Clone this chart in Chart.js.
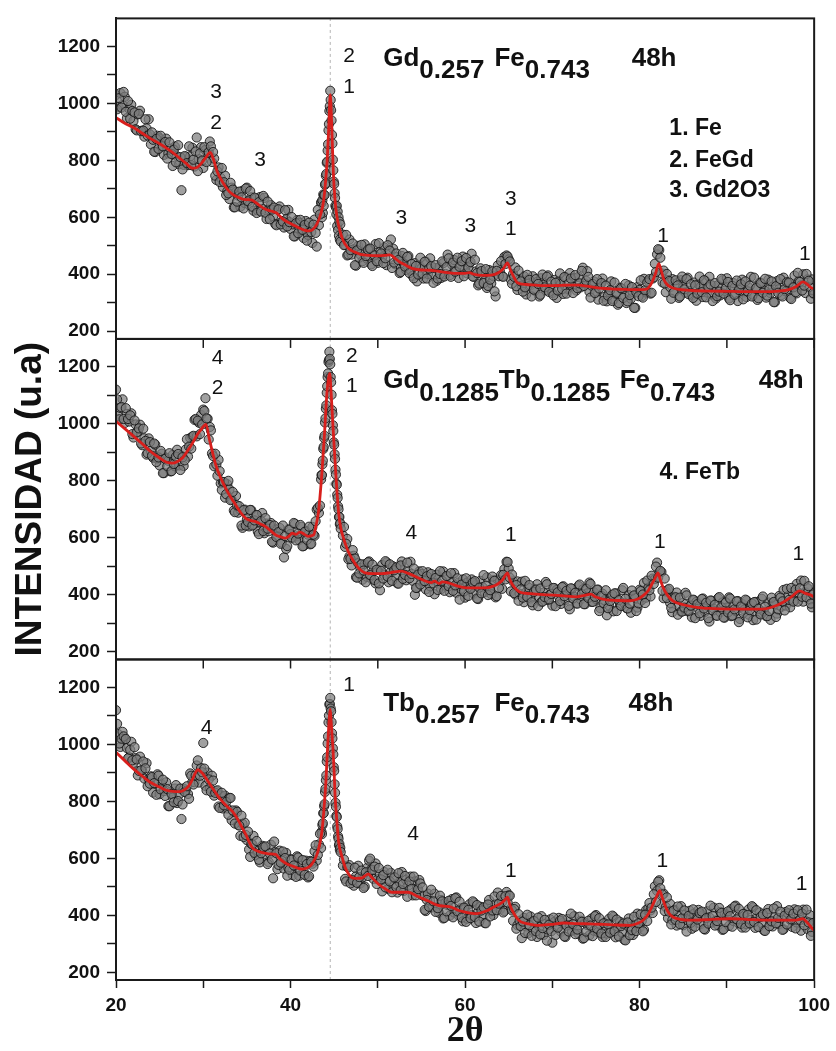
<!DOCTYPE html>
<html>
<head>
<meta charset="utf-8">
<script src="https://cdn.jsdelivr.net/npm/chart.js@4"></script>
<style>
  html, body { margin: 0; padding: 0; background: #ffffff; }
  canvas { display: block; }
</style>
</head>
<body>
<canvas id="c" width="836" height="1051"></canvas>
<script>
// ---------------- data ----------------
const xTicks = [20, 30, 40, 50, 60, 70, 80, 90, 100];
const yTicks = [200, 300, 400, 500, 600, 700, 800, 900, 1000, 1100, 1200];
const refLine2Theta = 44.55;

// 2-theta scan positions (shared by the three patterns)
const scanX = [
20,20.25,20.5,20.75,21,21.25,21.5,21.75,22,22.25,22.5,22.75,23,23.25,23.5,23.75,24,24.25,24.5,24.75,
25,25.25,25.5,25.75,26,26.25,26.5,26.75,27,27.25,27.5,27.75,28,28.25,28.5,28.75,29,29.25,29.5,29.75,
30,30.25,30.5,30.75,31,31.25,31.5,31.75,32,32.25,32.5,32.75,33,33.25,33.5,33.75,34,34.25,34.5,34.75,
35,35.25,35.5,35.75,36,36.25,36.5,36.75,37,37.25,37.5,37.75,38,38.25,38.5,38.75,39,39.25,39.5,39.75,
40,40.25,40.5,40.75,41,41.25,41.5,41.75,42,42.25,42.5,42.75,43,43.25,43.5,
43.55,43.6,43.65,43.7,43.75,43.8,43.85,43.9,43.95,44,44.05,44.1,44.15,44.2,44.25,44.3,44.35,44.4,44.45,44.5,
44.55,44.6,44.65,44.7,44.75,44.8,44.85,44.9,44.95,45,45.05,45.1,45.15,45.2,45.25,45.3,45.35,45.4,45.45,45.5,
45.55,45.6,45.65,45.7,45.75,
46,46.25,46.5,46.75,47,47.25,47.5,47.75,48,48.25,48.5,48.75,49,49.25,49.5,49.75,50,50.25,50.5,50.75,
51,51.25,51.5,51.75,52,52.25,52.5,52.75,53,53.25,53.5,53.75,54,54.25,54.5,54.75,55,55.25,55.5,55.75,
56,56.25,56.5,56.75,57,57.25,57.5,57.75,58,58.25,58.5,58.75,59,59.25,59.5,59.75,60,60.25,60.5,60.75,
61,61.25,61.5,61.75,62,62.25,62.5,62.75,63,63.25,63.5,63.75,64,64.25,64.5,64.75,65,65.25,65.5,65.75,
66,66.25,66.5,66.75,67,67.25,67.5,67.75,68,68.25,68.5,68.75,69,69.25,69.5,69.75,70,70.25,70.5,70.75,
71,71.25,71.5,71.75,72,72.25,72.5,72.75,73,73.25,73.5,73.75,74,74.25,74.5,74.75,75,75.25,75.5,75.75,
76,76.25,76.5,76.75,77,77.25,77.5,77.75,78,78.25,78.5,78.75,79,79.25,79.5,79.75,80,80.25,80.5,80.75,
81,81.25,81.5,81.75,82,82.25,82.5,82.75,83,83.25,83.5,83.75,84,84.25,84.5,84.75,85,85.25,85.5,85.75,
86,86.25,86.5,86.75,87,87.25,87.5,87.75,88,88.25,88.5,88.75,89,89.25,89.5,89.75,90,90.25,90.5,90.75,
91,91.25,91.5,91.75,92,92.25,92.5,92.75,93,93.25,93.5,93.75,94,94.25,94.5,94.75,95,95.25,95.5,95.75,
96,96.25,96.5,96.75,97,97.25,97.5,97.75,98,98.25,98.5,98.75,99,99.25,99.5,99.75,100
];
// in-between scan positions
const scanXMid = [
20.125,20.375,20.625,20.875,21.125,21.375,21.625,21.875,22.125,22.375,22.625,22.875,23.125,23.375,23.625,23.875,24.125,24.375,24.625,24.875,
25.125,25.375,25.625,25.875,26.125,26.375,26.625,26.875,27.125,27.375,27.625,27.875,28.125,28.375,28.625,28.875,29.125,29.375,29.625,29.875,
30.125,30.375,30.625,30.875,31.125,31.375,31.625,31.875,32.125,32.375,32.625,32.875,33.125,33.375,33.625,33.875,34.125,34.375,34.625,34.875,
35.125,35.375,35.625,35.875,36.125,36.375,36.625,36.875,37.125,37.375,37.625,37.875,38.125,38.375,38.625,38.875,39.125,39.375,39.625,39.875,
40.125,40.375,40.625,40.875,41.125,41.375,41.625,41.875,42.125,42.375,42.625,42.875,43.125,43.375,
46.125,46.375,46.625,46.875,47.125,47.375,47.625,47.875,48.125,48.375,48.625,48.875,49.125,49.375,49.625,49.875,
50.125,50.375,50.625,50.875,51.125,51.375,51.625,51.875,52.125,52.375,52.625,52.875,53.125,53.375,53.625,53.875,54.125,54.375,54.625,54.875,
55.125,55.375,55.625,55.875,56.125,56.375,56.625,56.875,57.125,57.375,57.625,57.875,58.125,58.375,58.625,58.875,59.125,59.375,59.625,59.875,
60.125,60.375,60.625,60.875,61.125,61.375,61.625,61.875,62.125,62.375,62.625,62.875,63.125,63.375,63.625,63.875,64.125,64.375,64.625,64.875,
65.125,65.375,65.625,65.875,66.125,66.375,66.625,66.875,67.125,67.375,67.625,67.875,68.125,68.375,68.625,68.875,69.125,69.375,69.625,69.875,
70.125,70.375,70.625,70.875,71.125,71.375,71.625,71.875,72.125,72.375,72.625,72.875,73.125,73.375,73.625,73.875,74.125,74.375,74.625,74.875,
75.125,75.375,75.625,75.875,76.125,76.375,76.625,76.875,77.125,77.375,77.625,77.875,78.125,78.375,78.625,78.875,79.125,79.375,79.625,79.875,
80.125,80.375,80.625,80.875,81.125,81.375,81.625,81.875,82.125,82.375,82.625,82.875,83.125,83.375,83.625,83.875,84.125,84.375,84.625,84.875,
85.125,85.375,85.625,85.875,86.125,86.375,86.625,86.875,87.125,87.375,87.625,87.875,88.125,88.375,88.625,88.875,89.125,89.375,89.625,89.875,
90.125,90.375,90.625,90.875,91.125,91.375,91.625,91.875,92.125,92.375,92.625,92.875,93.125,93.375,93.625,93.875,94.125,94.375,94.625,94.875,
95.125,95.375,95.625,95.875,96.125,96.375,96.625,96.875,97.125,97.375,97.625,97.875,98.125,98.375,98.625,98.875,99.125,99.375,99.625,99.875
];

// Gd0.257 Fe0.743 measured intensity
const scanGdFe = [
1029,988,1036,994,1023,948,981,995,938,909,961,974,904,883,912,944,856,872,829,886,
877,849,819,876,824,841,780,848,814,786,695,784,812,783,814,844,778,880,804,846,
773,836,825,866,794,806,731,775,738,706,746,691,664,704,635,689,676,637,693,650,
704,643,670,623,666,624,671,629,668,594,628,643,603,576,628,638,586,564,593,626,
559,575,533,590,581,555,527,587,538,563,510,592,497,572,652,
650,600,660,615,680,640,678,678,714,718,746,752,791,795,834,856,905,927,973,990,
1044,1012,976,940,889,859,802,765,725,717,684,668,641,635,610,640,570,620,555,600,
535,585,522,575,515,
539,503,466,522,469,488,430,500,469,446,505,455,488,435,470,506,440,478,459,494,
432,486,522,490,435,460,404,464,438,415,464,415,394,439,375,431,421,385,444,401,
456,395,422,377,424,387,439,401,469,397,434,450,411,387,444,462,417,403,438,472,
391,410,361,421,400,377,352,415,368,393,322,431,409,393,461,466,452,381,401,424,
345,381,360,393,329,382,361,393,342,373,322,386,363,344,396,351,334,380,317,376,
367,331,390,349,404,359,387,343,391,354,423,368,411,339,360,375,336,311,367,385,
321,305,338,375,311,331,293,353,348,325,299,361,314,337,282,355,345,323,384,336,
377,332,385,437,470,485,403,413,337,380,355,383,338,368,317,379,356,336,388,342,
325,371,307,365,356,320,378,336,391,331,359,315,362,326,379,342,386,315,352,369,
331,306,363,381,336,320,354,391,328,348,310,371,366,343,318,381,334,357,302,376,
348,327,388,340,367,317,356,395,333,376,361,400,334,382,355,382,330
];
const scanGdFeMid = [
979,1018,985,1040,970,1008,946,973,968,905,963,902,904,944,887,891,898,830,875,840,
886,849,864,806,863,822,837,793,853,811,768,815,790,849,783,802,831,762,824,799,
846,794,828,849,829,746,761,724,773,723,678,684,721,697,635,655,690,670,631,701,
656,692,637,669,615,653,620,675,616,655,593,627,634,572,628,575,585,625,568,583,
601,533,579,544,591,556,573,518,581,548,574,545,626,610,
502,538,469,485,508,432,484,458,503,440,464,486,490,429,466,446,
509,473,439,456,502,483,422,441,473,450,408,475,427,461,404,436,386,429,399,458,
402,444,385,420,429,370,432,385,401,445,392,425,456,391,441,409,458,426,446,393,
457,424,443,392,451,404,367,411,369,418,359,381,410,340,412,393,446,391,436,462,
445,367,391,358,413,375,339,354,398,380,322,346,383,366,328,399,354,391,338,374,
326,370,343,403,348,390,332,368,385,334,397,351,368,412,359,377,391,318,366,334,
383,350,369,307,360,325,344,306,371,335,299,351,317,366,305,327,355,282,337,323,
379,318,344,371,383,335,389,408,488,458,371,368,401,376,314,335,379,361,322,392,
347,383,330,365,317,361,332,392,337,379,319,355,364,306,369,323,339,384,332,351,
373,309,359,328,378,345,365,312,375,340,360,322,388,352,316,369,335,384,325,347,
375,302,358,335,383,322,348,372,371,313,354,337,405,373,343,360,401,377,314,334
];

// Gd0.1285 Tb0.1285 Fe0.743 measured intensity
const scanGdTbFe = [
1120,1027,1056,1086,1003,1035,1008,1037,952,998,972,997,925,949,892,949,905,881,927,877,
854,895,827,881,870,833,891,851,909,854,888,852,910,885,950,955,1014,956,1004,1031,
1050,1090,1018,989,896,851,857,874,791,795,741,788,770,734,696,747,688,699,635,699,
665,640,697,646,679,622,655,687,616,650,623,652,583,629,606,635,583,531,561,629,
613,600,649,605,592,638,571,624,611,577,638,607,699,687,805,
820,820,858,871,912,919,950,958,1005,1019,1053,1065,1109,1132,1164,1177,1217,1224,1253,1228,
1209,1164,1146,1102,1048,1035,995,975,935,927,893,877,839,822,790,786,751,740,710,700,
673,673,648,651,632,
608,568,596,535,503,537,462,511,494,453,507,463,517,457,484,440,488,416,505,469,
514,444,482,500,463,440,498,517,469,451,482,516,449,400,424,482,473,447,419,479,
430,454,402,471,439,420,482,432,465,409,443,476,407,443,421,454,390,443,423,454,
404,435,385,449,427,409,461,417,402,451,391,453,450,421,490,516,492,412,447,401,
447,404,446,374,410,426,387,363,419,437,391,375,408,445,381,401,362,423,417,394,
368,430,382,405,349,421,393,370,431,384,419,367,405,443,375,409,385,418,353,404,
381,328,362,392,342,405,383,364,416,370,353,399,337,396,389,355,418,381,442,390,
425,394,457,455,513,479,480,388,412,417,371,339,393,408,361,341,372,407,342,360,
321,381,375,351,326,387,340,362,306,379,351,328,388,339,373,320,355,391,325,363,
343,378,315,368,348,380,330,361,311,375,353,334,386,341,325,373,312,372,367,334,
396,358,417,362,395,356,409,379,438,407,450,376,409,423,383,356,408
];
const scanGdTbFeMid = [
1086,1016,1059,1017,1055,1017,1030,964,1012,970,984,931,983,940,897,936,888,931,866,882,
905,827,877,851,897,834,859,885,894,838,883,872,946,920,913,958,1017,1011,964,998,
1045,1019,945,977,887,895,818,834,768,796,753,800,732,761,690,714,711,643,697,643,
656,698,643,661,680,613,659,624,669,632,645,586,643,603,620,579,643,606,571,629,
601,652,591,615,645,570,621,593,639,579,611,658,705,713,
638,579,525,526,557,527,460,475,507,485,444,514,469,506,452,488,
440,484,457,518,464,507,449,486,496,439,503,456,470,513,458,473,492,424,471,436,
483,448,465,410,473,440,459,417,483,449,414,466,430,476,414,433,458,383,436,412,
458,396,421,443,448,387,425,405,469,432,399,416,464,449,395,424,469,470,454,515,
460,471,406,434,379,419,390,449,393,434,374,410,418,360,422,376,392,437,384,403,
424,360,409,378,427,395,414,361,423,387,407,369,436,402,367,421,389,438,375,393,
418,343,396,371,416,353,378,400,405,343,381,361,424,386,352,369,415,398,343,370,
413,401,371,450,416,467,438,499,460,484,414,457,389,421,354,385,391,330,390,341,
355,398,344,362,383,318,367,335,385,352,372,318,380,345,365,326,392,356,320,373,
338,387,327,349,377,304,359,336,383,321,346,369,374,313,351,331,394,358,325,343,
390,375,322,349,390,377,345,421,382,424,376,418,376,423,393,449,391,430,369,401
];

// Tb0.257 Fe0.743 measured intensity
const scanTbFe = [
1120,1036,991,1044,1017,987,955,1009,935,952,891,957,908,880,934,879,888,831,863,895,
825,859,836,867,783,834,813,845,794,825,738,845,837,826,898,868,867,926,866,917,
1005,854,901,847,890,820,836,782,821,775,820,775,812,734,763,768,717,679,721,725,
664,631,651,679,611,626,586,644,638,613,587,648,530,623,562,627,591,564,619,566,
597,541,574,607,539,575,556,592,533,591,581,625,592,649,636,
693,685,717,723,758,759,783,790,833,844,874,891,940,955,1003,1028,1077,1101,1140,1142,
1163,1126,1116,1078,1039,1021,986,965,920,907,860,830,795,781,749,745,712,703,677,669,
646,650,630,637,622,
575,528,570,576,522,504,537,574,512,533,501,566,592,561,528,582,527,544,484,552,
520,493,549,499,533,480,516,552,486,524,504,536,470,519,495,524,471,468,415,476,
450,428,476,428,409,454,389,446,436,399,457,410,463,400,425,379,426,388,439,401,
445,373,411,430,395,373,432,454,413,401,439,480,421,447,415,482,470,424,381,430,
365,381,320,391,361,337,396,346,379,324,360,397,331,370,350,386,304,377,358,391,
342,374,324,387,365,346,397,352,335,381,318,375,366,330,389,346,401,341,368,324,
372,336,388,351,395,323,360,377,339,314,371,389,345,331,367,406,357,381,349,419,
424,417,408,502,486,523,439,476,429,390,440,383,419,364,398,432,365,402,382,416,
353,406,387,419,369,400,350,414,393,374,427,382,365,412,349,407,399,363,422,380,
434,374,402,357,405,369,421,384,428,356,393,410,371,347,404,422,377,361,395,432,
369,389,351,412,407,384,359,421,375,399,346,420,381,352,401,342,370
];
const scanTbFeMid = [
1072,1003,1020,1028,1019,951,981,944,990,947,907,909,940,916,853,862,885,864,823,890,
842,876,819,843,783,826,797,857,801,845,789,833,853,809,890,859,891,944,890,902,
915,839,877,834,873,830,839,777,830,786,798,753,812,768,722,763,715,750,675,682,
694,605,649,619,661,595,618,639,642,580,617,596,659,618,577,585,624,601,539,560,
595,575,535,603,557,594,542,580,537,588,571,646,612,686,
596,519,568,512,523,567,514,534,557,496,551,538,599,559,571,510,
566,526,541,498,560,519,481,533,499,548,488,510,538,465,519,493,536,470,492,512,
498,419,454,430,490,449,412,425,469,449,391,414,451,433,393,460,414,448,392,427,
377,419,390,449,394,436,378,417,428,372,438,396,417,466,418,441,468,410,467,445,
469,417,422,353,404,362,378,338,402,365,328,380,344,392,333,355,384,311,367,344,
392,331,357,381,387,326,364,343,406,369,334,350,395,377,320,343,381,364,327,397,
353,390,336,372,324,368,339,399,344,385,326,362,371,312,375,330,348,395,345,372,
403,344,402,380,443,427,474,447,518,495,473,415,463,413,368,416,384,431,369,390,
417,343,398,374,421,360,385,408,413,352,390,371,434,398,364,380,426,408,351,376,
414,397,360,431,386,423,370,405,357,401,372,432,377,418,359,395,403,345,408,362,
379,424,372,391,413,349,399,368,418,386,406,354,418,384,406,365,420,375,328,373
];

// fitted profiles (red)
const fitXGdFe = [20,21,22,23,24,25,26,27,28,28.8,29.3,29.8,30.3,30.8,31.2,31.6,32,32.5,33,33.5,34,34.5,35,35.6,36,36.5,37,37.5,38,38.4,39,39.5,40,40.5,41,41.5,42,42.5,43,43.5,43.8,44,44.2,44.4,44.55,44.7,44.9,45.1,45.3,45.6,46,46.5,47,47.5,48,49,50,50.8,51.4,52,52.5,53,54,55,56,57,58,59,60,60.5,61,62,63,63.8,64.4,64.85,65.2,65.6,66,67,68,69,70,71,72,73,74,75,76,77,78,79,80,80.8,81.3,81.8,82.2,82.5,82.8,83.3,84,85,86,88,90,92,94,96,97,98,98.7,99.2,99.7,100];
const fitYGdFe = [950,930,915,895,875,858,838,815,790,772,775,790,810,828,800,760,735,710,690,678,670,664,662,660,652,640,630,624,620,615,597,586,578,570,562,556,552,556,575,615,660,720,800,930,1030,940,760,660,605,560,520,495,483,476,470,466,465,466,468,455,443,435,420,415,414,410,406,403,403,406,400,396,397,405,420,440,415,390,370,364,362,360,360,361,362,362,358,353,350,348,347,346,346,348,365,400,437,410,380,360,350,345,343,341,340,339,339,341,345,358,373,365,352,350];

const fitXGdTbFe = [20,21,22,23,24,25,25.8,26.5,27,27.66,28.2,28.8,29.3,29.75,30.3,30.7,31.1,31.46,32,32.6,33.2,33.74,34.3,34.88,35.5,36,36.6,37.15,37.7,38.3,38.8,39.43,39.8,40.2,40.6,41.1,41.6,42,42.65,42.9,43.2,43.6,43.9,44.17,44.35,44.48,44.65,44.86,45.2,45.5,45.75,46.07,46.5,47,47.5,48,48.55,49.5,50.4,51.5,52.7,53.5,54.6,55.3,56.1,56.5,57,57.4,58,59,59.9,61,62.6,63.2,63.7,64.3,64.86,65.1,65.4,65.9,66.4,67.5,69.4,71,72.8,73.7,74.4,75,76.2,77.5,78.9,79.8,80.4,81,81.4,81.8,82.1,82.4,82.7,83.2,83.8,85,86.5,88,90.3,92,94.1,95.3,96.4,97.5,98.3,99,99.77,100];
const fitYGdTbFe = [1009,983,957,930,902,880,865,862,867,882,905,934,962,980,998,946,895,853,810,772,740,714,688,668,660,657,648,639,625,610,604,599,605,616,612,620,612,605,610,640,691,830,970,1108,1160,1177,1110,992,819,691,635,599,560,529,505,488,477,474,474,478,483,475,460,450,443,448,440,445,443,432,425,424,425,430,437,452,477,455,437,418,408,404,400,397,393,398,402,392,382,380,379,385,397,415,437,460,477,450,425,398,379,365,356,352,350,350,350,358,373,395,414,405,397,392];

const fitXTbFe = [20,21,22,23,23.87,25,25.77,26.5,27.3,28.05,28.5,28.8,29.1,29.37,29.94,30.5,31.08,31.6,32.2,32.8,33.36,34.1,34.5,34.88,35.3,35.64,36.2,36.77,37.5,38.3,38.6,39.05,39.6,40.19,40.8,41.3,41.8,42.25,42.7,43.03,43.35,43.6,43.85,44.05,44.2,44.36,44.45,44.55,44.65,44.75,44.86,45,45.1,45.3,45.5,45.9,46.27,46.6,47,47.5,48.15,48.5,48.9,49.4,50.05,50.8,51.57,52.5,53.47,54,54.6,55.8,56.9,57.6,58.4,59.2,59.9,60.6,61.4,62.4,63.3,64,64.5,64.86,65.1,65.4,65.9,66.4,67.3,68.3,69.8,71.3,72.8,74.3,75.9,77.4,78.9,79.8,80.4,81,81.55,82,82.3,82.6,82.85,83.3,83.8,84.7,85.7,88,90.3,92.2,94.1,96,97.9,98.7,99.2,99.77,100];
const fitYTbFe = [972,943,914,889,868,850,839,835,834,845,862,880,900,911,897,872,845,822,799,780,764,729,705,683,655,637,626,620,616,614,604,591,580,573,566,562,565,573,592,614,650,695,780,868,960,1053,1095,1123,1080,1035,984,900,822,735,660,605,568,548,533,530,531,538,545,530,510,494,481,481,481,475,466,450,435,432,429,418,412,408,406,415,429,440,452,464,440,417,392,377,370,365,368,373,371,370,368,366,365,372,383,405,440,470,487,462,440,410,394,386,383,385,388,386,383,383,383,388,375,354,348];

// phase labels above the peaks (panel 0 = top, x = 2theta, y = intensity)
const peakLabelPanel = [0,0,0,0,0,0,0,0,0,0,0, 1,1,1,1,1,1,1,1, 2,2,2,2,2,2];
const peakLabelText  = ['3','2','3','2','1','3','3','3','1','1','1', '4','2','2','1','4','1','1','1', '4','1','4','1','1','1'];
const peakLabelX     = [31.46,31.46,36.5,46.72,46.72,52.7,60.6,65.23,65.23,82.69,98.93, 31.65,31.65,47.02,47.02,53.85,65.23,82.31,98.18, 30.39,46.72,54.04,65.23,82.61,98.55];
const peakLabelY     = [1038,929,799,1165,1058,595,568,665,558,535,472, 1229,1125,1237,1133,617,610,585,541, 1055,1206,685,556,591,508];

// panel titles: pieces, subscripts flagged; x = null means "follows previous piece"
const titlePanel = [0,0,0,0,0, 1,1,1,1,1,1,1, 2,2,2,2,2];
const titleText  = ['Gd','0.257','Fe','0.743','48h', 'Gd','0.1285','Tb','0.1285','Fe','0.743','48h', 'Tb','0.257','Fe','0.743','48h'];
const titleSub   = [0,1,0,1,0, 0,1,0,1,0,1,0, 0,1,0,1,0];
const titleX     = [50.62,null,63.37,null,79.09, 50.62,null,null,null,77.72,null,93.66, 50.62,null,63.37,null,78.74];
const titleBaseY = [1131, 1125, 1118];

// phase key
const keyPanel = [0,0,0,1];
const keyText  = ['1. Fe','2. FeGd','3. Gd2O3','4. FeTb'];
const keyX     = [83.41,83.41,83.41,82.27];
const keyY     = [888,778,672,808];

// ---------------- chart ----------------
const FONT = '"Liberation Sans", Arial, Helvetica, sans-serif';
Chart.defaults.font.family = FONT;
const yMin = 173, yMax = 1298;
const panelIds = ['y1', 'y2', 'y3'];   // top, middle, bottom
const scans = [scanGdFe, scanGdTbFe, scanTbFe];
const scansMid = [scanGdFeMid, scanGdTbFeMid, scanTbFeMid];
const fitsX = [fitXGdFe, fitXGdTbFe, fitXTbFe];
const fitsY = [fitYGdFe, fitYGdTbFe, fitYTbFe];

const datasets = [];
panelIds.forEach((id, p) => {
  datasets.push({
    type: 'line', yAxisID: id, xAxisID: 'x', order: 1,
    data: fitsX[p].map((x, i) => ({x, y: fitsY[p][i]})),
    borderColor: '#d81f1c', borderWidth: 2.8, pointRadius: 0,
    cubicInterpolationMode: 'monotone', fill: false
  });
  datasets.push({
    type: 'scatter', yAxisID: id, xAxisID: 'x', order: 2,
    data: scanX.map((x, i) => ({x, y: scans[p][i]}))
          .concat(scanXMid.map((x, i) => ({x, y: scansMid[p][i]}))),
    pointRadius: 4.6, pointHoverRadius: 4.6,
    backgroundColor: 'rgba(125,125,125,0.72)', borderColor: 'rgba(18,18,18,0.85)', borderWidth: 1
  });
  datasets.push({
    type: 'line', yAxisID: id, xAxisID: 'x', order: 3,
    data: [{x: refLine2Theta, y: yMin}, {x: refLine2Theta, y: yMax}],
    borderColor: '#b5b5b5', borderWidth: 1, borderDash: [3, 3], pointRadius: 0
  });
});

function yAxis(showTitle) {
  return {
    type: 'linear', axis: 'y', position: 'left', stack: 'panels', stackWeight: 1,
    min: yMin, max: yMax,
    afterBuildTicks: s => { s.ticks = yTicks.map(v => ({value: v})); },
    afterFit: s => { s.width = 116; },
    ticks: {
      autoSkip: false, padding: 7, color: '#111',
      font: {size: 19, weight: 'bold'},
      callback: v => (v % 200 === 0 ? String(v) : '')
    },
    grid: { drawOnChartArea: false, drawTicks: true, tickLength: 9, tickWidth: 1.5, tickColor: '#1a1a1a' },
    border: { display: true, color: '#1a1a1a', width: 2 },
    title: {
      display: showTitle, text: 'INTENSIDAD (u.a)', color: '#111',
      font: {size: 37, weight: 'bold', lineHeight: 1.2}, padding: {top: 9, bottom: 0}
    }
  };
}

const framePlugin = {
  id: 'frames',
  afterDraw(chart) {
    const {ctx, chartArea, scales} = chart;
    ctx.save();
    ctx.strokeStyle = '#1a1a1a';
    panelIds.forEach((id, p) => {
      const s = scales[id];
      ctx.lineWidth = 2;
      ctx.strokeRect(chartArea.left, s.top, chartArea.right - chartArea.left, s.bottom - s.top);
      if (p > 0) {
        ctx.lineWidth = 1.5;
        xTicks.forEach(v => {
          const px = scales.x.getPixelForValue(v);
          ctx.beginPath(); ctx.moveTo(px, s.top); ctx.lineTo(px, s.top + 9); ctx.stroke();
        });
      }
    });
    ctx.restore();
  }
};

const textPlugin = {
  id: 'texts',
  afterDatasetsDraw(chart) {
    const {ctx, scales} = chart;
    const X = v => scales.x.getPixelForValue(v);
    ctx.save();
    ctx.fillStyle = '#111';
    // peak labels
    ctx.font = '21px ' + FONT;
    ctx.textAlign = 'center'; ctx.textBaseline = 'middle';
    peakLabelText.forEach((t, i) => {
      const s = scales[panelIds[peakLabelPanel[i]]];
      ctx.fillText(t, X(peakLabelX[i]), s.getPixelForValue(peakLabelY[i]));
    });
    // titles
    ctx.font = 'bold 26px ' + FONT;
    ctx.textAlign = 'left'; ctx.textBaseline = 'alphabetic';
    let cursor = 0;
    titleText.forEach((t, i) => {
      const p = titlePanel[i];
      const s = scales[panelIds[p]];
      const base = s.getPixelForValue(titleBaseY[p]);
      const x0 = titleX[i] === null ? cursor : X(titleX[i]);
      ctx.fillText(t, x0, base + (titleSub[i] ? 12.5 : 0));
      cursor = x0 + ctx.measureText(t).width;
    });
    // phase key
    ctx.font = 'bold 23px ' + FONT;
    keyText.forEach((t, i) => {
      const s = scales[panelIds[keyPanel[i]]];
      ctx.fillText(t, X(keyX[i]), s.getPixelForValue(keyY[i]));
    });
    ctx.restore();
  }
};

new Chart(document.getElementById('c'), {
  type: 'scatter',
  data: { datasets },
  options: {
    responsive: false, animation: false, devicePixelRatio: 1,
    layout: { padding: { top: 7, right: 16, left: 0, bottom: 0 } },
    plugins: { legend: { display: false }, tooltip: { enabled: false } },
    scales: {
      x: {
        type: 'linear', position: 'bottom', min: 20, max: 100,
        afterBuildTicks: s => { s.ticks = xTicks.map(v => ({value: v})); },
        afterFit: s => { s.height = 71; },
        ticks: {
          autoSkip: false, maxRotation: 0, padding: 6, color: '#111',
          font: {size: 19, weight: 'bold'},
          callback: v => (v % 20 === 0 ? String(v) : '')
        },
        grid: { drawOnChartArea: false, drawTicks: true, tickLength: 8, tickWidth: 1.5, tickColor: '#1a1a1a' },
        border: { display: true, color: '#1a1a1a', width: 2 },
        title: {
          display: true, text: '2θ', color: '#111',
          font: {family: '"Liberation Serif", "Times New Roman", serif', size: 36, weight: 'bold', lineHeight: 1},
          padding: {top: 0, bottom: 1}
        }
      },
      // stacked panels are laid out bottom-up in definition order
      y3: yAxis(false),
      y2: yAxis(true),
      y1: yAxis(false)
    }
  },
  plugins: [framePlugin, textPlugin]
});
</script>
</body>
</html>
